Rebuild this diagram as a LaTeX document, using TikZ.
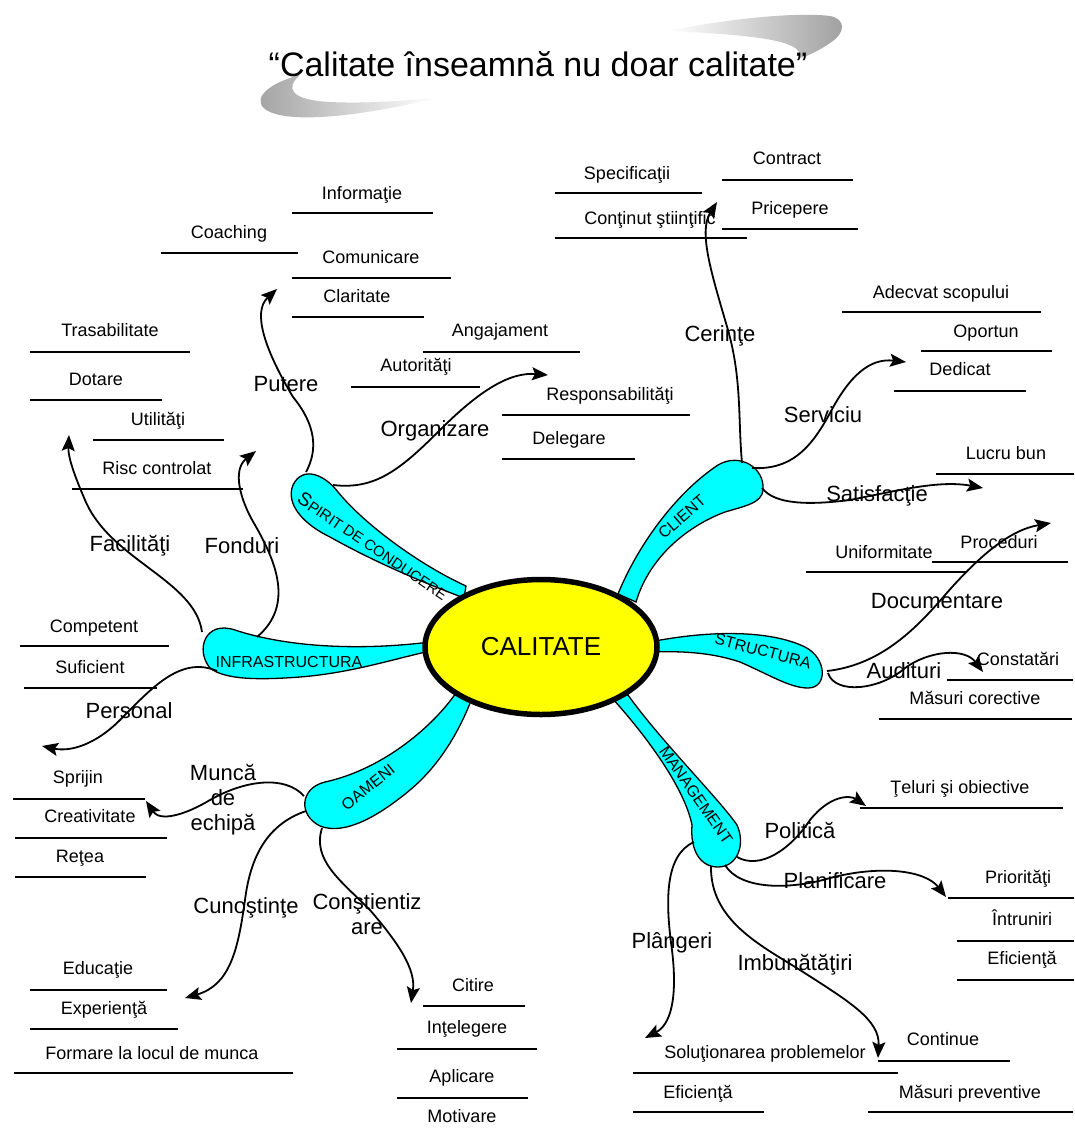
\documentclass[tikz,border=0pt]{standalone}
\usepackage{fontspec}
\setmainfont{Liberation Sans}
\usetikzlibrary{arrows.meta,shapes.geometric}
\definecolor{bubcyan}{RGB}{0,255,255}
\definecolor{calyellow}{RGB}{255,255,0}
\begin{document}
\begin{tikzpicture}[x=1pt,y=-1pt,
  sub/.style={font=\fontsize{18}{20}\selectfont, inner sep=0pt, anchor=base, yshift=-6.5pt},
  brl/.style={font=\fontsize{22}{25}\selectfont, inner sep=0pt, anchor=base, yshift=-8pt},
  brm/.style={font=\fontsize{22}{25}\selectfont, inner sep=0pt, align=center},
  bub/.style={fill=bubcyan, draw=black, line width=1.3pt},
  bubt/.style={font=\fontsize{16}{16}\selectfont, inner sep=0pt},
  ul/.style={line width=1.2pt, draw=black},
  conn/.style={line width=1.8pt, -{Stealth[length=16pt,width=13pt,inset=3pt]}},
  swoosh/.style={draw=none}
]
\useasboundingbox (0,0) rectangle (1074,1135);
\fill[white] (0,0) rectangle (1074,1135);

% ---------- title swooshes ----------
\shade[swoosh, left color=white, right color=gray!75]
  (669,31) .. controls (730,18) and (800,12) .. (830,16)
  .. controls (846,19) and (846,33) .. (830,43)
  .. controls (820,50) and (808,56) .. (800,58)
  .. controls (802,44) and (780,36) .. (669,31) -- cycle;
\shade[swoosh, left color=gray!75, right color=white]
  (436,98) .. controls (380,112) and (300,125) .. (270,112)
  .. controls (250,103) and (262,85) .. (300,75)
  .. controls (285,88) and (290,100) .. (330,102)
  .. controls (370,104) and (410,100) .. (436,98) -- cycle;
\node[font=\fontsize{34}{36}\selectfont, inner sep=0pt, anchor=base] (title) at (538,76)
  {“Calitate înseamnă nu doar calitate”};

% ---------- bubbles ----------
\draw[bub] (466,586) .. controls (420,565) and (365,525) .. (338,492)
  .. controls (325,475) and (303,465) .. (293,485)
  .. controls (285,505) and (305,525) .. (330,537)
  .. controls (380,565) and (430,585) .. (464,598) -- cycle;
\draw[bub] (618,594) .. controls (640,540) and (680,490) .. (718,465)
  .. controls (740,452) and (765,468) .. (763,490)
  .. controls (762,503) and (745,506) .. (725,512)
  .. controls (690,525) and (650,555) .. (636,602) -- cycle;
\draw[bub] (650,642) .. controls (710,630) and (770,630) .. (805,647)
  .. controls (827,658) and (828,688) .. (808,688)
  .. controls (790,688) and (770,675) .. (740,662)
  .. controls (710,652) and (680,651) .. (650,652) -- cycle;
\draw[bub] (628,695) .. controls (660,740) and (720,800) .. (737,825)
  .. controls (746,845) and (737,867) .. (718,867)
  .. controls (700,867) and (690,850) .. (692,825)
  .. controls (685,790) and (650,740) .. (612,698) -- cycle;
\draw[bub] (456,693) .. controls (430,730) and (380,770) .. (325,782)
  .. controls (300,788) and (298,815) .. (320,826)
  .. controls (345,836) and (380,815) .. (410,790)
  .. controls (440,765) and (460,730) .. (472,698) -- cycle;
\draw[bub] (430,642) .. controls (350,652) and (280,645) .. (235,630)
  .. controls (205,620) and (195,650) .. (210,668)
  .. controls (225,680) and (260,680) .. (300,677)
  .. controls (350,673) and (390,660) .. (430,651) -- cycle;

% ---------- centre ----------
\node[ellipse, draw=black, fill=calyellow, line width=5.5pt, minimum width=232pt, minimum height=135pt,
  font=\fontsize{26}{26}\selectfont, inner sep=0pt] (cal) at (541,647) {CALITATE};

% ---------- bubble labels ----------
\node[bubt, rotate=-34] (tspirit) at (373,546)
  {{\fontsize{19}{19}\selectfont S}{\fontsize{15}{15}\selectfont PIRIT DE CONDUCERE}};
\node[bubt, rotate=41] (tclient) at (682,517) {CLIENT};
\node[bubt, rotate=-14.5] (tstruct) at (763,651) {STRUCTURA};
\node[bubt, rotate=-55] (tman) at (696,795) {MANAGEMENT};
\node[bubt, rotate=38.7] (toam) at (368,787) {OAMENI};
\node[bubt] (tinfra) at (289,662) {INFRASTRUCTURA};

% ---------- branch labels ----------
\node[brl] (lput) at (286,383) {Putere};
\node[brl] (lorg) at (435,428) {Organizare};
\node[brl] (lfac) at (130,543) {Facilităţi};
\node[brl] (lfon) at (242,545) {Fonduri};
\node[brl] (lper) at (129,710) {Personal};
\node[brm] (lmun) at (223,800) {Muncă\\de\\echipă};
\node[brl] (lcun) at (246,905) {Cunoştinţe};
\node[brm] (lcon) at (367,914) {Conştientiz\\are};
\node[brl] (lcer) at (720,333) {Cerinţe};
\node[brl] (lser) at (823,414) {Serviciu};
\node[brl] (lsat) at (877,493) {Satisfacţie};
\node[brl] (ldoc) at (937,600) {Documentare};
\node[brl] (laud) at (904,670) {Audituri};
\node[brl] (lpol) at (800,830) {Politică};
\node[brl] (lpla) at (835,880) {Planificare};
\node[brl] (lpln) at (672,940) {Plângeri};
\node[brl] (limb) at (795,962) {Imbunătăţiri};

% ---------- leaf labels ----------
\node[sub] (a1) at (362,193) {Informaţie};
\node[sub] (a2) at (229,232) {Coaching};
\node[sub] (a3) at (371,257) {Comunicare};
\node[sub] (a4) at (357,296) {Claritate};
\node[sub] (b1) at (110,330) {Trasabilitate};
\node[sub] (b2) at (96,379) {Dotare};
\node[sub] (b3) at (158,419) {Utilităţi};
\node[sub] (b4) at (157,468) {Risc controlat};
\node[sub] (c1) at (500,330) {Angajament};
\node[sub] (c2) at (416,365) {Autorităţi};
\node[sub] (c3) at (610,394) {Responsabilităţi};
\node[sub] (c4) at (569,438) {Delegare};
\node[sub] (d1) at (627,173) {Specificaţii};
\node[sub] (d2) at (650,218) {Conţinut ştiinţific};
\node[sub] (d3) at (787,158) {Contract};
\node[sub] (d4) at (790,208) {Pricepere};
\node[sub] (e1) at (941,292) {Adecvat scopului};
\node[sub] (e2) at (986,331) {Oportun};
\node[sub] (e3) at (960,369) {Dedicat};
\node[sub] (e4) at (1006,453) {Lucru bun};
\node[sub] (f1) at (884,552) {Uniformitate};
\node[sub] (f2) at (999,542) {Proceduri};
\node[sub] (f3) at (1018,659) {Constatări};
\node[sub] (f4) at (975,698) {Măsuri corective};
\node[sub] (g1) at (94,626) {Competent};
\node[sub] (g2) at (90,667) {Suficient};
\node[sub] (g3) at (78,777) {Sprijin};
\node[sub] (g4) at (90,816) {Creativitate};
\node[sub] (g5) at (80,856) {Reţea};
\node[sub] (h1) at (98,968) {Educaţie};
\node[sub] (h2) at (104,1008) {Experienţă};
\node[sub] (h3) at (152,1053) {Formare la locul de munca};
\node[sub] (i1) at (473,985) {Citire};
\node[sub] (i2) at (467,1027) {Inţelegere};
\node[sub] (i3) at (462,1076) {Aplicare};
\node[sub] (i4) at (462,1116) {Motivare};
\node[sub] (j1) at (960,787) {Ţeluri şi obiective};
\node[sub] (j2) at (1018,877) {Priorităţi};
\node[sub] (j3) at (1022,919) {Întruniri};
\node[sub] (j4) at (1022,958) {Eficienţă};
\node[sub] (j5) at (943,1039) {Continue};
\node[sub] (j6) at (765,1052) {Soluţionarea problemelor};
\node[sub] (j7) at (698,1092) {Eficienţă};
\node[sub] (j8) at (970,1092) {Măsuri preventive};

% ---------- underlines ----------
\draw[ul] (292,213) -- (433,213);
\draw[ul] (161,253) -- (298,253);
\draw[ul] (292,278) -- (451,278);
\draw[ul] (292,317) -- (424,317);
\draw[ul] (30,352) -- (190,352);
\draw[ul] (30,400) -- (162,400);
\draw[ul] (93,440) -- (224,440);
\draw[ul] (72,489) -- (243,489);
\draw[ul] (423,352) -- (580,352);
\draw[ul] (351,387) -- (480,387);
\draw[ul] (502,415) -- (690,415);
\draw[ul] (502,459) -- (635,459);
\draw[ul] (555,193) -- (702,193);
\draw[ul] (555,238) -- (747,238);
\draw[ul] (722,180) -- (853,180);
\draw[ul] (722,229) -- (858,229);
\draw[ul] (842,312) -- (1041,312);
\draw[ul] (921,351) -- (1052,351);
\draw[ul] (894,391) -- (1026,391);
\draw[ul] (936,474) -- (1074,474);
\draw[ul] (806,572) -- (967,572);
\draw[ul] (932,562) -- (1068,562);
\draw[ul] (947,680) -- (1073,680);
\draw[ul] (879,719) -- (1072,719);
\draw[ul] (20,646) -- (169,646);
\draw[ul] (24,688) -- (157,688);
\draw[ul] (13,799) -- (145,799);
\draw[ul] (15,838) -- (167,838);
\draw[ul] (15,877) -- (146,877);
\draw[ul] (30,990) -- (167,990);
\draw[ul] (30,1029) -- (178,1029);
\draw[ul] (14,1073) -- (293,1073);
\draw[ul] (423,1006) -- (525,1006);
\draw[ul] (397,1049) -- (537,1049);
\draw[ul] (397,1098) -- (528,1098);
\draw[ul] (860,808) -- (1063,808);
\draw[ul] (948,898) -- (1074,898);
\draw[ul] (957,941) -- (1074,941);
\draw[ul] (957,980) -- (1074,980);
\draw[ul] (878,1061) -- (1010,1061);
\draw[ul] (633,1073) -- (898,1073);
\draw[ul] (633,1112) -- (764,1112);
\draw[ul] (868,1112) -- (1073,1112);

% ---------- connector end points ----------
\coordinate (sPut) at (306,472);  \coordinate (ePut) at (277,289);
\coordinate (sOrg) at (333,485);  \coordinate (eOrg) at (548,375);
\coordinate (sFac) at (202,632);  \coordinate (eFac) at (69,435);
\coordinate (sFon) at (257,637);  \coordinate (eFon) at (256,451);
\coordinate (sPer) at (217,671);  \coordinate (ePer) at (42,746);
\coordinate (sMun) at (304,796);  \coordinate (eMun) at (146,801);
\coordinate (sCun) at (306,811);  \coordinate (eCun) at (185,998);
\coordinate (sCon) at (322,828);  \coordinate (eCon) at (411,1003);
\coordinate (sCer) at (742,463);  \coordinate (eCer) at (717,202);
\coordinate (sSer) at (752,468);  \coordinate (eSer) at (906,362);
\coordinate (sSat) at (762,488);  \coordinate (eSat) at (983,488);
\coordinate (sDoc) at (827,671);  \coordinate (eDoc) at (1051,523);
\coordinate (sAud) at (828,673);  \coordinate (eAud) at (983,672);
\coordinate (sPol) at (737,857);  \coordinate (ePol) at (866,806);
\coordinate (sPla) at (725,865);  \coordinate (ePla) at (946,897);
\coordinate (sImb) at (711,866);  \coordinate (eImb) at (878,1058);
\coordinate (sPln) at (694,842);  \coordinate (ePln) at (645,1038);

% ---------- connectors ----------
\draw[conn] (sPut) .. controls (318,450) and (316,425) .. (293,397) .. controls (265,350) and (252,312) .. (ePut);
\draw[conn] (sOrg) .. controls (375,490) and (400,470) .. (440,430) .. controls (480,390) and (510,372) .. (eOrg);
\draw[conn] (sFac) .. controls (195,580) and (110,560) .. (85,500) .. controls (72,470) and (68,455) .. (eFac);
\draw[conn] (sFon) .. controls (295,605) and (275,560) .. (255,525) .. controls (240,500) and (232,470) .. (eFon);
\draw[conn] (sPer) .. controls (180,655) and (150,690) .. (120,720) .. controls (95,745) and (70,752) .. (ePer);
\draw[conn] (sMun) .. controls (285,775) and (245,780) .. (210,800) .. controls (185,815) and (160,822) .. (eMun);
\draw[conn] (sCun) .. controls (265,825) and (250,860) .. (245,900) .. controls (238,950) and (230,985) .. (eCun);
\draw[conn] (sCon) .. controls (312,860) and (340,880) .. (370,910) .. controls (400,945) and (416,970) .. (eCon);
\draw[conn] (sCer) .. controls (738,420) and (742,380) .. (728,330) .. controls (712,275) and (698,232) .. (eCer);
\draw[conn] (sSer) .. controls (790,470) and (810,450) .. (830,413) .. controls (850,375) and (870,358) .. (eSer);
\draw[conn] (sSat) .. controls (775,505) and (810,505) .. (850,500) .. controls (900,490) and (940,480) .. (eSat);
\draw[conn] (sDoc) .. controls (880,665) and (915,630) .. (945,595) .. controls (980,555) and (1010,530) .. (eDoc);
\draw[conn] (sAud) .. controls (835,695) and (880,690) .. (905,668) .. controls (930,650) and (965,648) .. (eAud);
\draw[conn] (sPol) .. controls (760,870) and (790,850) .. (810,820) .. controls (830,795) and (850,795) .. (ePol);
\draw[conn] (sPla) .. controls (740,890) and (790,890) .. (830,878) .. controls (880,865) and (925,870) .. (ePla);
\draw[conn] (sImb) .. controls (710,920) and (760,945) .. (800,970) .. controls (850,1002) and (880,1020) .. (eImb);
\draw[conn] (sPln) .. controls (665,855) and (665,900) .. (672,950) .. controls (678,1000) and (670,1025) .. (ePln);
\end{tikzpicture}
\end{document}
